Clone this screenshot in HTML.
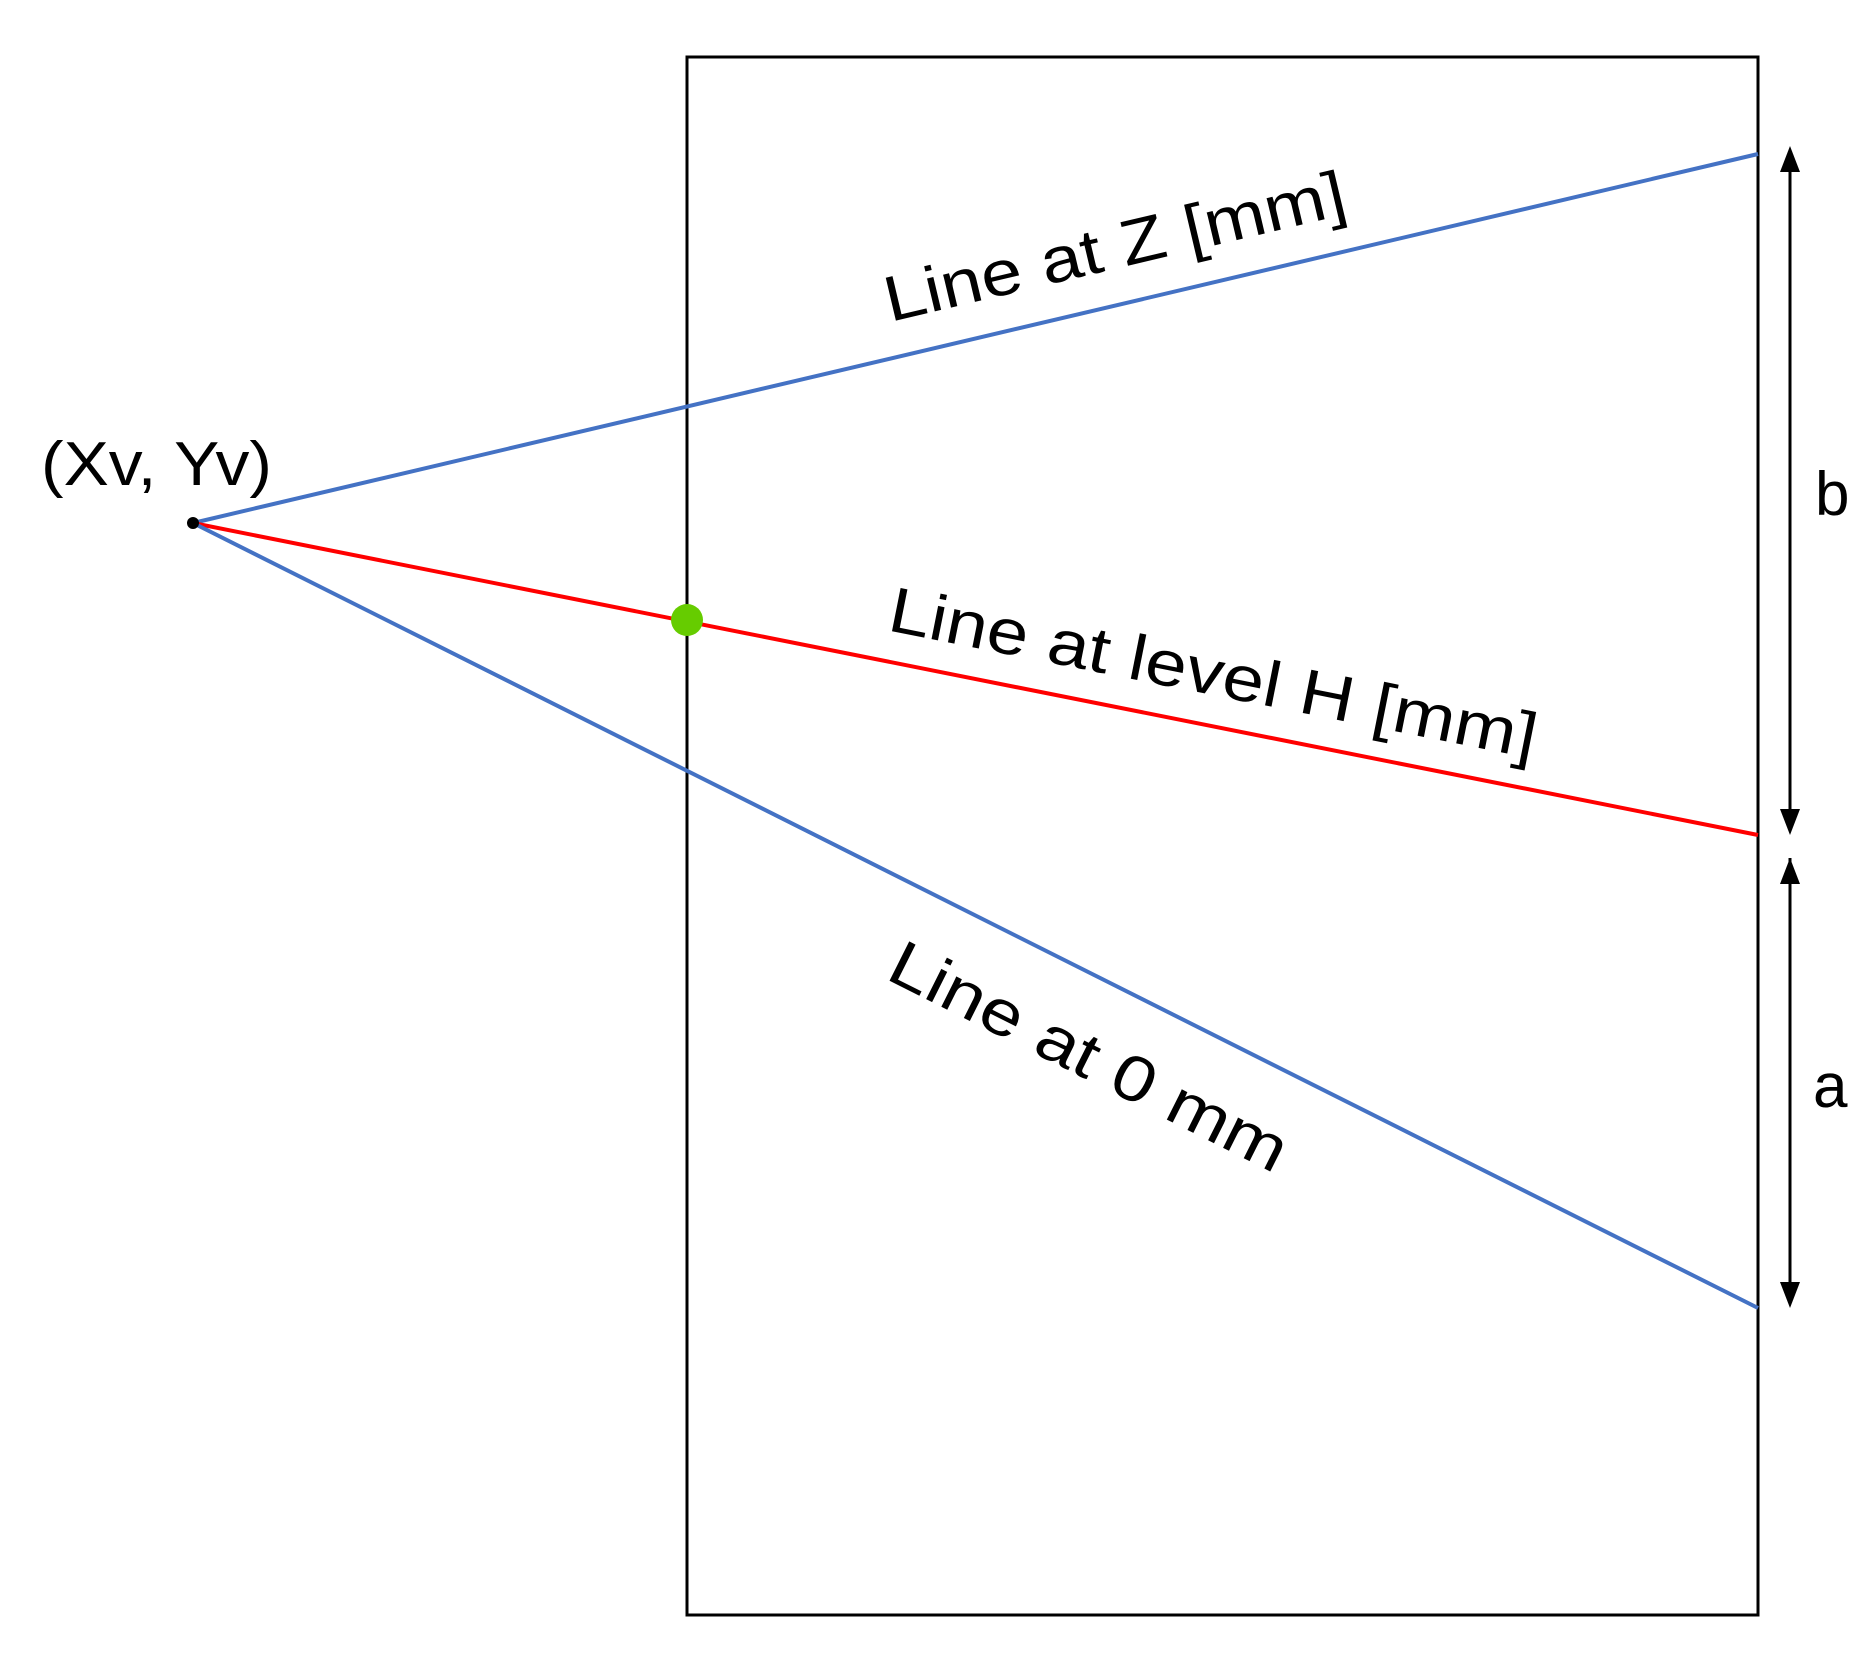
<!DOCTYPE html>
<html><head><meta charset="utf-8"><style>html,body{margin:0;padding:0;background:#fff}</style></head>
<body>
<svg width="1857" height="1664" viewBox="0 0 1857 1664" xmlns="http://www.w3.org/2000/svg" font-family="Liberation Sans, sans-serif">
<defs>
<marker id="ah" markerWidth="10" markerHeight="10" refX="9" refY="5" orient="auto" markerUnits="userSpaceOnUse" viewBox="0 0 10 10">
<path d="M0,0 L10,5 L0,10 z" fill="#000"/>
</marker>
</defs>
<rect x="687" y="57" width="1071" height="1558" fill="none" stroke="#000" stroke-width="3"/>
<line x1="193" y1="523" x2="1758" y2="154" stroke="#4472c4" stroke-width="4"/>
<line x1="193" y1="523" x2="1758" y2="835" stroke="#ff0000" stroke-width="4"/>
<line x1="193" y1="523" x2="1758" y2="1308" stroke="#4472c4" stroke-width="4"/>
<circle cx="193" cy="523" r="6" fill="#000"/>
<circle cx="687" cy="620" r="16" fill="#66cc00"/>
<g stroke="#000" stroke-width="3">
<line x1="1790" y1="152" x2="1790" y2="828"/>
<line x1="1790" y1="858" x2="1790" y2="1304"/>
</g>
<g fill="#000">
<path d="M1790,146 L1780,172 L1800,172 z"/>
<path d="M1790,835 L1780,809 L1800,809 z"/>
<path d="M1790,858 L1780,884 L1800,884 z"/>
<path d="M1790,1308 L1780,1282 L1800,1282 z"/>
</g>
<text x="41" y="485" font-size="62" textLength="231" lengthAdjust="spacingAndGlyphs">(Xv, Yv)</text>
<text x="1815" y="515" font-size="62">b</text>
<text x="1813" y="1107" font-size="62">a</text>
<text transform="translate(890,322) rotate(-13.3)" font-size="64" textLength="472" lengthAdjust="spacingAndGlyphs">Line at Z [mm]</text>
<text transform="translate(886,630) rotate(11.25)" font-size="64" textLength="659" lengthAdjust="spacingAndGlyphs">Line at level H [mm]</text>
<text transform="translate(884,978) rotate(26.6)" font-size="64" textLength="437" lengthAdjust="spacingAndGlyphs">Line at 0 mm</text>
</svg>
</body></html>
